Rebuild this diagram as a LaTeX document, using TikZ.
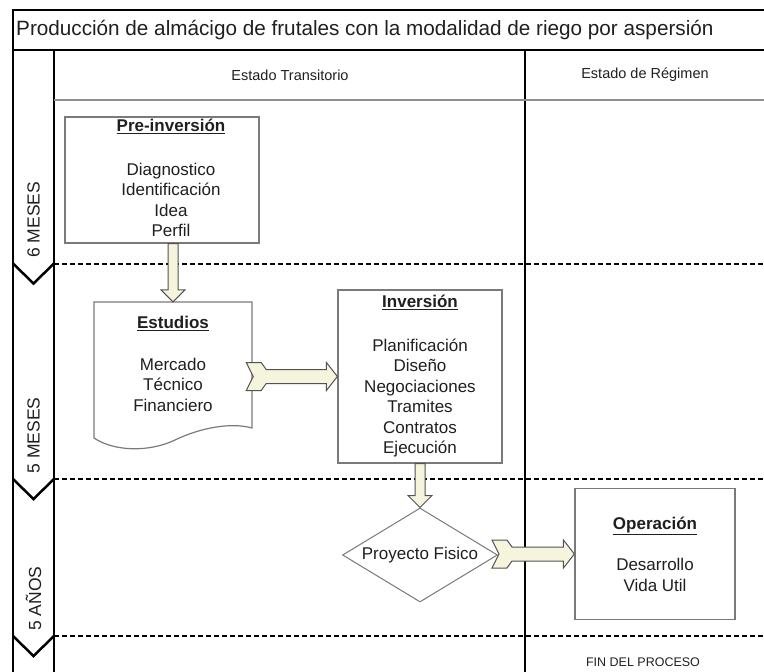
\documentclass[tikz,border=0pt]{standalone}
\usepackage{fontspec}
\setmainfont{Liberation Sans}
\usetikzlibrary{shapes.geometric,calc}

\newlength{\du}
\setlength{\du}{10\unitlength}

\definecolor{boxcolor}{rgb}{0.480000, 0.480000, 0.480000}
\definecolor{arrowcolor}{rgb}{0.960000, 0.960000, 0.870000}
\definecolor{arrowedge}{rgb}{0.320000, 0.320000, 0.320000}
\definecolor{inkcolor}{rgb}{0.120000, 0.120000, 0.120000}
\definecolor{headcolor}{rgb}{0.560000, 0.560000, 0.560000}

\tikzset{
  frameline/.style={draw=black, line width=0.14\du},
  heavyline/.style={draw=black, line width=0.25\du},
  headline/.style={draw=headcolor, line width=0.2\du},
  lanemark/.style={draw=black, line width=0.25\du, line join=miter},
  lanedash/.style={draw=black, line width=0.2\du, dash pattern=on 0.5\du off 0.3\du},
  boxtext/.style={text=inkcolor, align=center, font=\fontsize{17}{20.5}\selectfont},
  procbox/.style={boxtext, draw=boxcolor, line width=0.12\du, fill=white, inner sep=0pt},
  docline/.style={draw=boxcolor, line width=0.12\du, fill=white},
  docbox/.style={boxtext, inner sep=0pt},
  decision/.style={boxtext, diamond, draw=boxcolor, line width=0.1\du, fill=white, inner sep=0pt, aspect=1.65},
  lanelabel/.style={text=inkcolor, rotate=90, anchor=west, font=\fontsize{17.5}{20}\selectfont, inner sep=0pt},
  headlabel/.style={text=inkcolor, font=\fontsize{14.5}{18}\selectfont},
  blkarrow/.style={draw=arrowedge, fill=arrowcolor, line width=0.1\du, line join=miter},
}

% block arrow going down, tip on top of #2
\newcommand{\downarrowto}[2]{%
  \draw[blkarrow] let \p1=(#1.south), \p2=(#2.north) in
    (\x2-0.5\du,\y1) -- (\x2-0.5\du,\y2-1.2\du) -- (\x2-1.2\du,\y2-1.2\du)
    -- (\x2,\y2) -- (\x2+1.2\du,\y2-1.2\du) -- (\x2+0.5\du,\y2-1.2\du)
    -- (\x2+0.5\du,\y1) -- cycle;}

% block arrow with notched tail, tip on the left side of #2
\newcommand{\sidearrowto}[2]{%
  \draw[blkarrow] let \p1=(#1.east), \p2=(#2.west) in
    (\x1-0.6\du,\y2-1.4\du) -- (\x1+0.9\du,\y2-1.4\du) -- (\x1+1.4\du,\y2-0.7\du)
    -- (\x2-1.1\du,\y2-0.7\du) -- (\x2-1.1\du,\y2-1.4\du) -- (\x2,\y2)
    -- (\x2-1.1\du,\y2+1.4\du) -- (\x2-1.1\du,\y2+0.7\du) -- (\x1+1.4\du,\y2+0.7\du)
    -- (\x1+0.9\du,\y2+1.4\du) -- (\x1-0.6\du,\y2+1.4\du) -- (\x1+0.1\du,\y2) -- cycle;}

\begin{document}
\begin{tikzpicture}
\pgftransformxscale{1.000000}
\pgftransformyscale{-1.000000}
\useasboundingbox (0\du,0\du) rectangle (76.4\du,67.2\du);
% frame, title band and columns
\draw[frameline] (76.4\du,1.0\du) -- (1.3\du,1.0\du) -- (1.3\du,67.2\du);
\draw[frameline] (5.4\du,5.0\du) -- (5.4\du,67.2\du);
\draw[frameline] (52.5\du,5.0\du) -- (52.5\du,67.2\du);
\draw[headline] (5.4\du,9.95\du) -- (76.4\du,9.95\du);
\draw[heavyline] (1.3\du,5.0\du) -- (76.4\du,5.0\du);
\node[anchor=west, inner sep=0pt, text=inkcolor, font=\fontsize{20.7}{24}\selectfont] (title) at (1.6\du,3.0\du) {Producción de almácigo de frutales con la modalidad de riego por aspersión};
\node[headlabel] (transitorio) at (29.0\du,7.5\du) {Estado Transitorio};
\node[headlabel] (regimen) at (64.5\du,7.5\du) {Estado de Régimen};

% lanes
\draw[lanedash] (5.4\du,26.35\du) -- (76.4\du,26.35\du);
\draw[lanemark] (1.3\du,26.35\du) -- (3.35\du,28.35\du) -- (5.4\du,26.35\du);
\node[lanelabel] (sixmonths) at (3.35\du,25.8\du) {6 MESES};
\draw[lanedash] (5.4\du,47.9\du) -- (76.4\du,47.9\du);
\draw[lanemark] (1.3\du,47.9\du) -- (3.35\du,49.9\du) -- (5.4\du,47.9\du);
\node[lanelabel] (fivemonths) at (3.35\du,47.35\du) {5 MESES};
\draw[lanedash] (5.4\du,63.6\du) -- (76.4\du,63.6\du);
\draw[lanemark] (1.3\du,63.6\du) -- (3.35\du,65.6\du) -- (5.4\du,63.6\du);
\node[lanelabel] (fiveyears) at (3.35\du,63.1\du) {5 AÑOS};

% steps
\node[procbox, minimum width=19.4\du, minimum height=12.6\du] (preinv) at (16.2\du,18.0\du) {\hspace*{1.8\du}\begin{tabular}{@{}c@{}}\underline{\textbf{Pre-inversión}}\\[2.3\du] Diagnostico\\ Identificación\\ Idea\\ Perfil\end{tabular}};
\draw[docline] (9.4\du,30.2\du) -- (25.2\du,30.2\du) -- (25.2\du,42.8\du) .. controls (23.0\du,42.2\du) and (20.0\du,42.8\du) .. (17.5\du,44.0\du) .. controls (15.0\du,45.2\du) and (11.5\du,45.2\du) .. (9.4\du,43.8\du) -- cycle;
\node[docbox, minimum width=15.8\du, minimum height=12.4\du] (estudios) at (17.3\du,36.4\du) {\underline{\textbf{Estudios}}\\[2.1\du] Mercado\\ Técnico\\ Financiero};
\node[procbox, minimum width=16.4\du, minimum height=17.3\du] (inversion) at (42.0\du,37.65\du) {\underline{\textbf{Inversión}}\\[2.3\du] Planificación\\ Diseño\\ Negociaciones\\ Tramites\\ Contratos\\ Ejecución};
\node[decision, minimum width=15.5\du, minimum height=9.4\du] (fisico) at (42.0\du,55.5\du) {Proyecto Fisico};
\node[procbox, minimum width=16.0\du, minimum height=13.1\du] (operacion) at (65.5\du,55.4\du) {\underline{\textbf{Operación}}\\[2.1\du] Desarrollo\\ Vida Util};
\node[text=inkcolor, font=\fontsize{12.5}{15}\selectfont] (fin) at (64.3\du,66.2\du) {FIN DEL PROCESO};

% arrows
\downarrowto{preinv}{estudios}
\sidearrowto{estudios}{inversion}
\downarrowto{inversion}{fisico}
\sidearrowto{fisico}{operacion}
\end{tikzpicture}
\end{document}
